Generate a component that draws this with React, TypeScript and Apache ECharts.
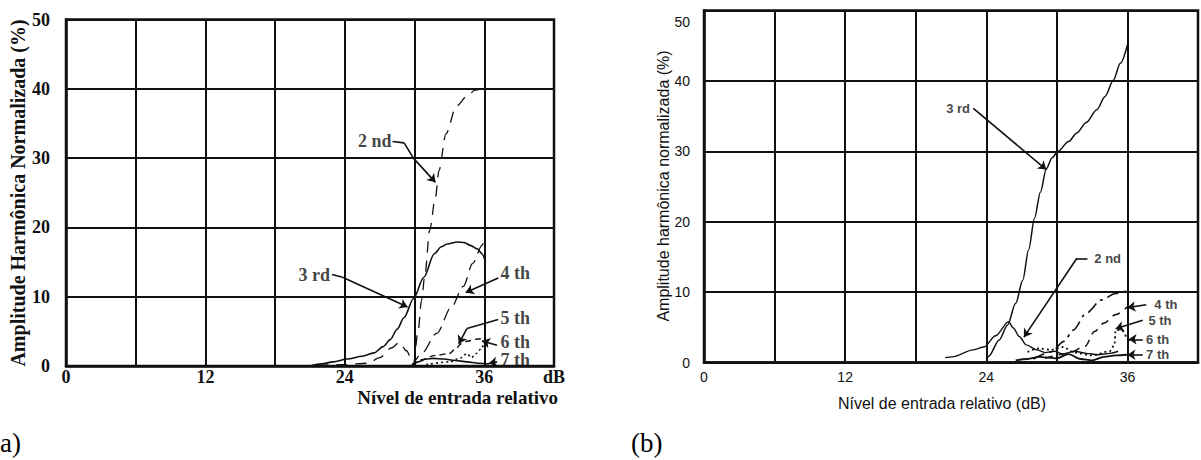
import React, { useEffect, useRef } from "react";
import * as echarts from "echarts";

// ---- Panel (a): harmonic amplitude (%) vs relative input level (dB) ----
const harm2A = [[20, 0], [24, 0.2], [26, 0.4], [27, 1.2], [28, 2.6], [28.7, 3.4], [29.3, 2.2], [29.9, 0.3], [30.3, 5], [30.6, 9.5], [30.9, 13.3], [31.3, 19.6], [31.8, 24.4], [32.1, 28.2], [32.7, 33.5], [33.6, 37.5], [34.5, 38.9], [35.2, 39.8], [36, 40.2]];
const harm3A = [[21, 0], [22, 0.3], [23, 0.6], [24.2, 1.0], [25.5, 1.4], [26.5, 1.9], [27.3, 2.8], [27.9, 3.8], [28.5, 5.3], [29.1, 7.0], [29.9, 9.7], [30.8, 12.8], [31.7, 16.2], [32.3, 17.2], [32.8, 17.6], [33.7, 17.9], [34.3, 17.8], [34.8, 17.4], [35.4, 16.9], [35.8, 16.2], [36.1, 15.0]];
const harm4A = [[29.8, 0], [30.6, 1.8], [31.9, 4.7], [33.2, 8.6], [34.2, 11.5], [35, 14.8], [35.8, 17.4], [36, 18.2]];
const harm5A = [[29.8, 0], [30.6, 0.9], [31.7, 1.5], [33, 1.8], [33.6, 2.6], [34, 3.2], [34.6, 3.6], [35.4, 3.9], [36, 4]];
const harm6A = [[31, 0.2], [33, 0.6], [34, 1.2], [34.5, 1.8], [34.9, 1.2], [35.3, 1.8], [35.8, 2.6], [36, 3.7]];
const harm7A = [[29.7, 0], [30.3, 0.6], [31, 1.0], [31.6, 1.1], [32.5, 1.0], [33.5, 0.8], [34.5, 0.6], [35.5, 0.4], [36.4, 0.3]];

// ---- Panel (b) ----
const harm2B = [[20.5, 0.7], [21.1, 0.8], [22.9, 1.8], [23.8, 2.2], [24.8, 3.8], [25.9, 5.8], [26.3, 4.9], [26.8, 3.7], [27.4, 2.5], [28.3, 1.8], [29, 1.4], [29.8, 1.6], [30.5, 1.2], [31.5, 1.6], [32.5, 1.3], [33.5, 1.1], [34.5, 1.3], [35.2, 1.6]];
const harm3B = [[24, 0], [24.2, 0.9], [25.1, 3.2], [25.8, 5.3], [26.5, 8.4], [27.1, 11.7], [27.6, 16], [28.1, 20.5], [28.6, 24.2], [29.1, 27.5], [29.6, 29.1], [30.1, 30], [31, 31.4], [31.7, 32.6], [32.5, 34.1], [33.4, 35.9], [34.1, 37.8], [34.8, 40.1], [35.4, 42.5], [36, 45.1]];
const harm4B = [[28, 0.5], [29.5, 1.5], [30.6, 3], [31.4, 4.6], [32.5, 7], [33.8, 8.9], [35, 9.8], [36, 10.2]];
const harm5B = [[29, 0.6], [31, 1.3], [32.4, 2.3], [33.2, 4.4], [34, 5.6], [35, 6.8], [36, 7.9]];
const harm6B = [[27.5, 1.5], [28.5, 2], [29.5, 1.8], [30.5, 2.2], [31.5, 1.4], [33, 1.0], [34.5, 1.6], [34.9, 2.5], [35, 4.6], [35.5, 4.6], [36, 3.3]];
const harm7B = [[26.5, 0.3], [27.5, 0.5], [28.5, 0.8], [30, 0.6], [31, 1.2], [32, 0.5], [33, 0.3], [34, 0.8], [35, 1.0], [36, 1.1]];

// Axis ticks
const xMax = 42;
const xStep = 6;
const yMax = 50;
const yStep = 10;

// Harmonic callouts: text anchor and leader polyline (data coordinates)
const calloutsA = [
  { text: "2 nd", at: [28.1, 32.4], side: "left", leader: [[28.1, 32.4], [29.1, 32.2], [29.9, 30.0], [31.8, 26.5]] },
  { text: "3 rd", at: [22.8, 13.2], side: "left", leader: [[22.9, 13.2], [23.8, 12.8], [29.4, 8.5]] },
  { text: "4 th", at: [37.3, 13.4], side: "right", leader: [[37.2, 12.7], [34.4, 10.6]] },
  { text: "5 th", at: [37.3, 6.9], side: "right", leader: [[37.2, 6.7], [34.5, 5.4], [33.8, 3.2]] },
  { text: "6 th", at: [37.3, 3.4], side: "right", leader: [[37.1, 3.0], [35.8, 3.6]] },
  { text: "7 th", at: [37.3, 0.8], side: "right", leader: [[37.1, 0.6], [36.4, 0.4]] },
];
const calloutsB = [
  { text: "3 rd", at: [22.7, 36.1], side: "left", leader: [[22.9, 36.1], [29.1, 27.4]] },
  { text: "2 nd", at: [33.1, 14.8], side: "right", leader: [[32.6, 14.8], [31.7, 14.8], [27.2, 3.6]] },
  { text: "4 th", at: [38.2, 8.2], side: "right", leader: [[37.6, 8.2], [36.0, 7.8]] },
  { text: "5 th", at: [37.7, 6.0], side: "right", leader: [[37.3, 6.0], [35.0, 4.8]] },
  { text: "6 th", at: [37.5, 3.3], side: "right", leader: [[37.3, 3.3], [36.1, 3.3]] },
  { text: "7 th", at: [37.5, 1.1], side: "right", leader: [[37.3, 1.1], [36.0, 1.1]] },
];

const SERIF = '"Liberation Serif", "Times New Roman", serif';
const SANS = '"Liberation Sans", Arial, sans-serif';
const INK = "#111";

function curve(data: number[][], grid: number, width: number, type: any) {
  return {
    type: "line",
    xAxisIndex: grid,
    yAxisIndex: grid,
    data,
    showSymbol: false,
    smooth: 0.3,
    smoothMonotone: "x",
    silent: true,
    lineStyle: { color: INK, width, type },
  };
}

function callouts(list: any[], grid: number, font: any) {
  const segments: any[] = [];
  list.forEach((c) => {
    for (let i = 0; i < c.leader.length - 1; i++) {
      const last = i === c.leader.length - 2;
      segments.push([
        { coord: c.leader[i], symbol: "none" },
        { coord: c.leader[i + 1], symbol: last ? "arrow" : "none", symbolSize: last ? 8 : 0 },
      ]);
    }
  });
  return {
    type: "scatter",
    xAxisIndex: grid,
    yAxisIndex: grid,
    symbolSize: 0,
    silent: true,
    data: list.map((c) => ({
      name: c.text,
      value: c.at,
      label: { position: c.side },
    })),
    label: { show: true, formatter: "{b}", distance: 1, color: INK, ...font },
    markLine: {
      silent: true,
      symbol: ["none", "none"],
      lineStyle: { color: INK, width: 1.6, type: "solid" },
      label: { show: false },
      data: segments,
    },
  };
}

function axisPair(grid: number, font: any, xLabel: (v: number) => string, yMargin: number, xMargin: number, yLabelExtra: any) {
  const gridLine = { show: true, lineStyle: { color: INK, width: 2 } };
  return {
    x: {
      type: "value",
      gridIndex: grid,
      min: 0,
      max: xMax,
      interval: xStep,
      axisLine: { show: true, lineStyle: { color: INK, width: 2.5 } },
      axisTick: { show: false },
      splitLine: gridLine,
      axisLabel: { formatter: xLabel, margin: xMargin, color: INK, showMaxLabel: true, ...font },
    },
    y: {
      type: "value",
      gridIndex: grid,
      min: 0,
      max: yMax,
      interval: yStep,
      axisLine: { show: true, lineStyle: { color: INK, width: 2.5 } },
      axisTick: { show: false },
      splitLine: gridLine,
      axisLabel: { margin: yMargin, color: INK, ...font, ...yLabelExtra },
    },
  };
}

export default function App() {
  const ref = useRef<HTMLDivElement>(null);

  useEffect(() => {
    if (!ref.current) return;
    const chart = echarts.init(ref.current, undefined, { renderer: "svg" });

    const fontA = { fontFamily: SERIF, fontWeight: "bold", fontSize: 18 };
    const fontB = { fontFamily: SANS, fontSize: 14 };

    const a = axisPair(
      0,
      fontA,
      (v: number) => (v === xMax ? "dB" : v % 12 === 0 ? String(v) : ""),
      16,
      2,
      { fontSize: 18, padding: [0, 0, 8, 0] }
    );
    const b = axisPair(
      1,
      fontB,
      (v: number) => (v % 12 === 0 && v < xMax ? String(v) : ""),
      14,
      7,
      {
        formatter: (v: number) => (v === yMax ? "{low|50}" : String(v)),
        rich: { low: { fontFamily: SANS, fontSize: 14, color: INK, padding: [22, 0, 0, 0] } },
      }
    );

    chart.setOption({
      animation: false,
      backgroundColor: "#fff",
      grid: [
        { left: 66, top: 19.5, width: 488, height: 346.5, show: true, borderColor: INK, borderWidth: 2.5 },
        { left: 704, top: 10.5, width: 498.5, height: 352, show: true, borderColor: INK, borderWidth: 2.5 },
      ],
      xAxis: [a.x, b.x],
      yAxis: [a.y, b.y],
      series: [
        curve(harm2A, 0, 1.3, [11, 8]),
        curve(harm3A, 0, 1.6, "solid"),
        curve(harm4A, 0, 1.3, [12, 7]),
        curve(harm5A, 0, 1.4, [6, 4]),
        curve(harm6A, 0, 1.6, [2, 3]),
        curve(harm7A, 0, 1.6, "solid"),
        callouts(calloutsA, 0, { fontFamily: SERIF, fontWeight: "bold", fontSize: 18 }),

        curve(harm2B, 1, 1.4, "solid"),
        curve(harm3B, 1, 1.5, "solid"),
        curve(harm4B, 1, 1.6, [12, 5, 3, 5]),
        curve(harm5B, 1, 1.6, [8, 6]),
        curve(harm6B, 1, 1.8, [2, 3]),
        curve(harm7B, 1, 1.8, "solid"),
        callouts(calloutsB, 1, { fontFamily: SANS, fontWeight: "bold", fontSize: 13 }),
      ],
      graphic: [
        {
          type: "text",
          x: 18,
          y: 193,
          rotation: Math.PI / 2,
          style: {
            text: "Amplitude Harmônica Normalizada (%)",
            font: `bold 20px ${SERIF}`,
            fill: INK,
            textAlign: "center",
            textVerticalAlign: "middle",
          },
        },
        {
          type: "text",
          x: 558,
          y: 397,
          style: {
            text: "Nível de entrada relativo",
            font: `bold 19px ${SERIF}`,
            fill: INK,
            textAlign: "right",
            textVerticalAlign: "middle",
          },
        },
        {
          type: "text",
          x: 663,
          y: 186,
          rotation: Math.PI / 2,
          style: {
            text: "Amplitude harmônica normalizada (%)",
            font: `16px ${SANS}`,
            fill: INK,
            textAlign: "center",
            textVerticalAlign: "middle",
          },
        },
        {
          type: "text",
          x: 942,
          y: 403,
          style: {
            text: "Nível de entrada relativo (dB)",
            font: `16px ${SANS}`,
            fill: INK,
            textAlign: "center",
            textVerticalAlign: "middle",
          },
        },
        {
          type: "text",
          x: 0,
          y: 443,
          style: { text: "a)", font: `27px ${SERIF}`, fill: "#000", textVerticalAlign: "middle" },
        },
        {
          type: "text",
          x: 631,
          y: 443,
          style: { text: "(b)", font: `27px ${SERIF}`, fill: "#000", textVerticalAlign: "middle" },
        },
      ],
    });

    return () => chart.dispose();
  }, []);

  return (
    <div
      ref={ref}
      style={{ position: "absolute", left: 0, top: 0, width: 1201, height: 460, background: "#fff" }}
    />
  );
}
